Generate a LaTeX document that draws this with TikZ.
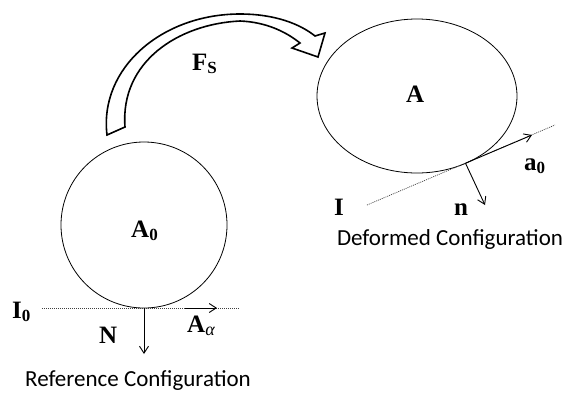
\documentclass[tikz,border=0pt]{standalone}
\usepackage{fontspec}
\setmainfont{Liberation Serif}
\newfontfamily\calib{Carlito}
\usetikzlibrary{arrows.meta,shapes.geometric}
\tikzset{
  lbl/.style={font=\fontsize{25}{25}\selectfont\bfseries, inner sep=0pt, anchor=base west},
  captext/.style={font=\fontsize{23}{23}\selectfont\calib, inner sep=0pt, anchor=base},
  shape line/.style={line width=0.8pt},
  dotline/.style={line width=0.7pt, dash pattern=on 1pt off 1pt, black!75},
  vec/.style={line width=0.9pt, -{Straight Barb[length=7pt,width=9pt,line width=0.9pt]}},
  blockarrow/.style={line width=1.6pt, fill=white, line join=miter}
}
\begin{document}
\begin{tikzpicture}[x=1pt,y=-1pt]
\useasboundingbox (0,0) rectangle (571,392);
% reference configuration
\node[circle, draw, shape line, minimum size=166pt, inner sep=0pt] (c0) at (144,225) {};
\coordinate (t0) at (144,308);
\coordinate (l0a) at (42,308);
\coordinate (l0b) at (240,308);
\draw[dotline] (l0a) -- (l0b);
\coordinate (aa) at (217,308);
\coordinate (aas) at (185,308);
\draw[vec] (aas) -- (aa);
\coordinate (nn) at (144,354);
\draw[vec] (t0) -- (nn);
\node[lbl] (lA0) at (131,237) {A\textsubscript{\fontsize{17}{17}\selectfont 0}};
\node[lbl] (lI0) at (12,318) {I\textsubscript{\fontsize{17}{17}\selectfont 0}};
\node[lbl] (lN) at (99,343) {N};
\node[lbl] (lAa) at (187,332) {A\textsubscript{\fontsize{18}{18}\selectfont\mdseries\itshape α}};
\node[captext] (rc) at (138,386) {Reference Configuration};
% deformed configuration
\node[ellipse, draw, shape line, minimum width=200pt, minimum height=154pt, inner sep=0pt] (c1) at (417,96) {};
\coordinate (t1) at (465.5,163.2);
\coordinate (la) at (367,205);
\coordinate (lb) at (555,125);
\draw[dotline] (la) -- (lb);
\coordinate (a0) at (532,135);
\draw[vec] (t1) -- (a0);
\coordinate (n1) at (485,205);
\draw[vec] (t1) -- (n1);
\node[lbl] (lA) at (406,102) {A};
\node[lbl] (lI) at (334,215) {I};
\node[lbl] (ln) at (454,215) {n};
\node[lbl] (la0) at (524,170) {a\textsubscript{\fontsize{17}{17}\selectfont 0}};
\node[captext] (dc) at (450,245) {Deformed Configuration};
% block arrow F_S
\draw[blockarrow] (107,135) .. controls (99,68) and (162,14) .. (240,14)
  .. controls (275,14) and (300,24) .. (315,36) -- (325,33) -- (318,57) -- (292,48) -- (300,43)
  .. controls (285,31) and (265,22) .. (240,21)
  .. controls (178,24) and (120,62) .. (125,127) -- cycle;
\node[lbl] (lF) at (192,70) {F\textsubscript{\fontsize{17}{17}\selectfont S}};
\end{tikzpicture}
\end{document}
